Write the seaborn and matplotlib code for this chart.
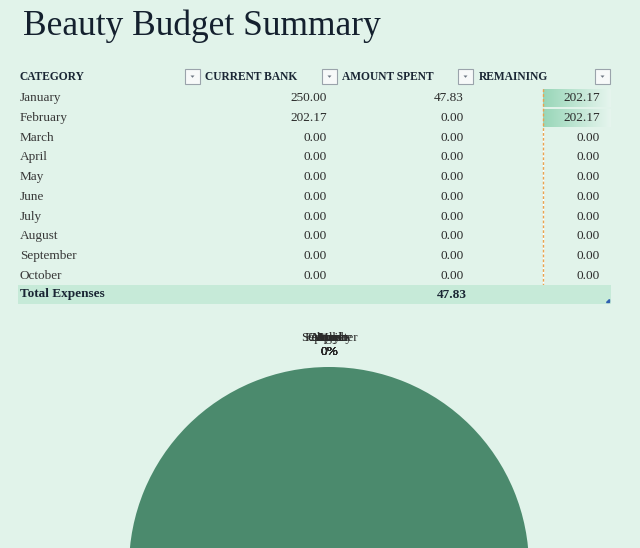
import numpy as np
import matplotlib
matplotlib.use("Agg")
import matplotlib.pyplot as plt
import matplotlib.patches as mpatches
from matplotlib.colors import LinearSegmentedColormap
import seaborn as sns

# Data (read from the sheet)
months = ["January", "February", "March", "April", "May", "June",
          "July", "August", "September", "October"]
current_bank = [250.00, 202.17, 0, 0, 0, 0, 0, 0, 0, 0]
amount_spent = [47.83, 0, 0, 0, 0, 0, 0, 0, 0, 0]
remaining = [202.17, 202.17, 0, 0, 0, 0, 0, 0, 0, 0]
headers = ["CATEGORY", "CURRENT BANK", "AMOUNT SPENT", "REMAINING"]

BG = "#E1F3EA"
PIE_GREEN = "#4B8A6D"
BAND = "#C6EAD8"

sns.set_theme(style="white", rc={"figure.facecolor": BG, "axes.facecolor": "none"})
plt.rcParams["font.family"] = ["Liberation Serif", "DejaVu Serif"]

W, H = 640, 548
fig = plt.figure(figsize=(W / 100, H / 100), dpi=100)

# --- pie chart (centre sits just below the visible area) ---
axp = fig.add_axes([0, 0, 1, 1])
total = sum(amount_spent)
pie_labels = [f"{m}\n{v / total:.0%}" for m, v in zip(months, amount_spent)]
wedges, texts = axp.pie(amount_spent, labels=pie_labels, colors=[PIE_GREEN] * len(months),
                        startangle=90, counterclock=False, radius=200, center=(329, H - 567),
                        labeldistance=1.11, wedgeprops=dict(linewidth=0),
                        textprops=dict(fontsize=9.5, color="#2A2A2A"))
for t in texts:
    t.set_horizontalalignment("center")
axp.set_aspect("auto")
axp.set_xlim(0, W)
axp.set_ylim(0, H)
axp.axis("off")

# --- table overlay (pixel coordinates, y from top) ---
ax = fig.add_axes([0, 0, 1, 1])
ax.set_xlim(0, W)
ax.set_ylim(H, 0)
ax.axis("off")

ax.text(23, 26, "Beauty Budget Summary", fontsize=25.5, color="#14202E", va="center")

head_x = [20, 205, 342, 479]
for hx, h in zip(head_x, headers):
    ax.text(hx, 76.5, h, fontsize=8.3, fontweight="bold", color="#1A2634", va="center")

# filter drop-down buttons
for bx in [185, 322, 458, 595]:
    ax.add_patch(mpatches.Rectangle((bx, 69), 15, 15, facecolor="#F7F9F9",
                                    edgecolor="#9AA3AB", linewidth=0.8))
    ax.add_patch(mpatches.Polygon([[bx + 5.5, 75.5], [bx + 9.5, 75.5], [bx + 7.5, 77.8]],
                                  closed=True, facecolor="#6A7480", edgecolor="none"))

row_y0, row_h = 98, 19.78
for i, m in enumerate(months):
    y = row_y0 + i * row_h
    ax.text(20, y, m, fontsize=9.5, color="#383838", va="center")
    ax.text(327, y, f"{current_bank[i]:.2f}", fontsize=9.5, color="#2A2A2A", va="center", ha="right")
    ax.text(464, y, f"{amount_spent[i]:.2f}", fontsize=9.5, color="#2A2A2A", va="center", ha="right")
    ax.text(600, y, f"{remaining[i]:.2f}", fontsize=9.5, color="#2A2A2A", va="center", ha="right", zorder=5)

# total row band
ax.add_patch(mpatches.Rectangle((18, 285), 593, 18.5, facecolor=BAND, edgecolor="none"))
ax.text(20, 294.5, "Total Expenses", fontsize=9.5, fontweight="bold", color="#1A2634", va="center")
ax.text(467, 294.5, f"{total:.2f}", fontsize=9.5, fontweight="bold", color="#1A2634",
        va="center", ha="right")
ax.add_patch(mpatches.Polygon([[606, 302], [609, 302], [609, 299]], closed=True, color="#3060B0"))

# --- data bars in the REMAINING column ---
axb = fig.add_axes([543 / W, 1 - 286 / H, 68 / W, 198 / H])
sns.barplot(x=remaining, y=months, orient="h", ax=axb, color="#A8DCC2", width=0.92)
axb.set_xlim(0, max(remaining))
ylim = axb.get_ylim()
cmap = LinearSegmentedColormap.from_list("bar", ["#98D6B8", "#E6F5EE"])
grad = np.linspace(0, 1, 256).reshape(1, -1)
for p in list(axb.patches):
    if p.get_width() <= 0:
        continue
    x0, y0 = p.get_x(), p.get_y()
    im = axb.imshow(grad, cmap=cmap, aspect="auto",
                    extent=[x0, x0 + p.get_width(), y0 + p.get_height(), y0], zorder=2)
    im.set_clip_path(p)
    p.set_facecolor("none")
    p.set_edgecolor("none")
axb.set_xlim(0, max(remaining))
axb.set_ylim(ylim)
axb.axvline(0, color="#EBA24E", linestyle=(0, (2, 1.5)), linewidth=1.0, clip_on=False, zorder=4)
axb.set_xlabel("")
axb.set_ylabel("")
axb.set_xticks([])
axb.set_yticks([])
sns.despine(ax=axb, left=True, bottom=True)

# keep table text above the data bars
ax.set_zorder(3)
axb.set_zorder(2)

fig.savefig("out.png", dpi=100, facecolor=BG)
